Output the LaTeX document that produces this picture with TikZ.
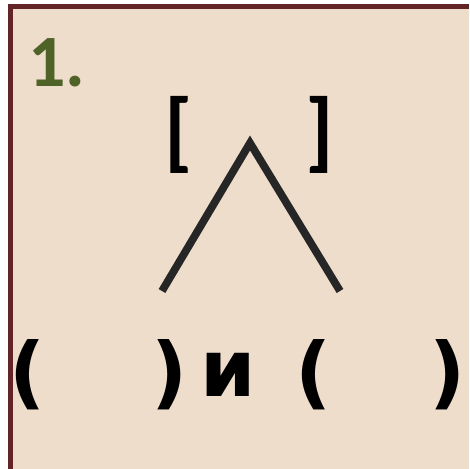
\documentclass[tikz,border=0pt]{standalone}
\usepackage{fontspec}
\setmainfont{Carlito}
\newfontfamily\rowfont{DejaVu Sans}
\usetikzlibrary{positioning}
\definecolor{paper}{HTML}{EFDDCC}
\definecolor{frame}{HTML}{632427}
\definecolor{olive}{HTML}{4F6228}
\definecolor{ink}{HTML}{262626}

\begin{document}
\begin{tikzpicture}[
    x=0.02cm, y=-0.02cm,
    glyph/.style={inner sep=0pt, font=\fontsize{42}{50}\selectfont\bfseries},
    brackglyph/.style={inner sep=0pt, font=\fontsize{50}{60}\selectfont\bfseries},
    rowglyph/.style={inner sep=0pt, font=\fontsize{45}{54}\selectfont\rowfont\bfseries},
    numlabel/.style={glyph, text=olive},
    branch/.style={draw=ink, line width=4.4pt}
]
\useasboundingbox (0,0) rectangle (469,469);

% card
\fill[paper] (10.5,6.5) rectangle (469,469);
\draw[frame, line width=2.9pt] (10.5,469) -- (10.5,6.5) -- (469,6.5);

% number
\node[numlabel] (num) at (57,63) {1.};

% brackets above the fork
\node[brackglyph] (lbrack) at (179,134.5) {[};
\node[brackglyph] (rbrack) at (320,134.5) {]};

% fork
\coordinate (apex) at (250,143);
\coordinate (lend) at (162,291);
\coordinate (rend) at (340,291);
\draw[branch] (lend) -- (apex) -- (rend);

% bottom row
\node[rowglyph] (lpar1) at (28,374.5) {(};
\node[rowglyph] (rpar1) at (170,374.5) {)};
\node[rowglyph] (conj) at (228,374.5) {и};
\node[rowglyph] (lpar2) at (314,374.5) {(};
\node[rowglyph] (rpar2) at (448,374.5) {)};

\end{tikzpicture}
\end{document}
